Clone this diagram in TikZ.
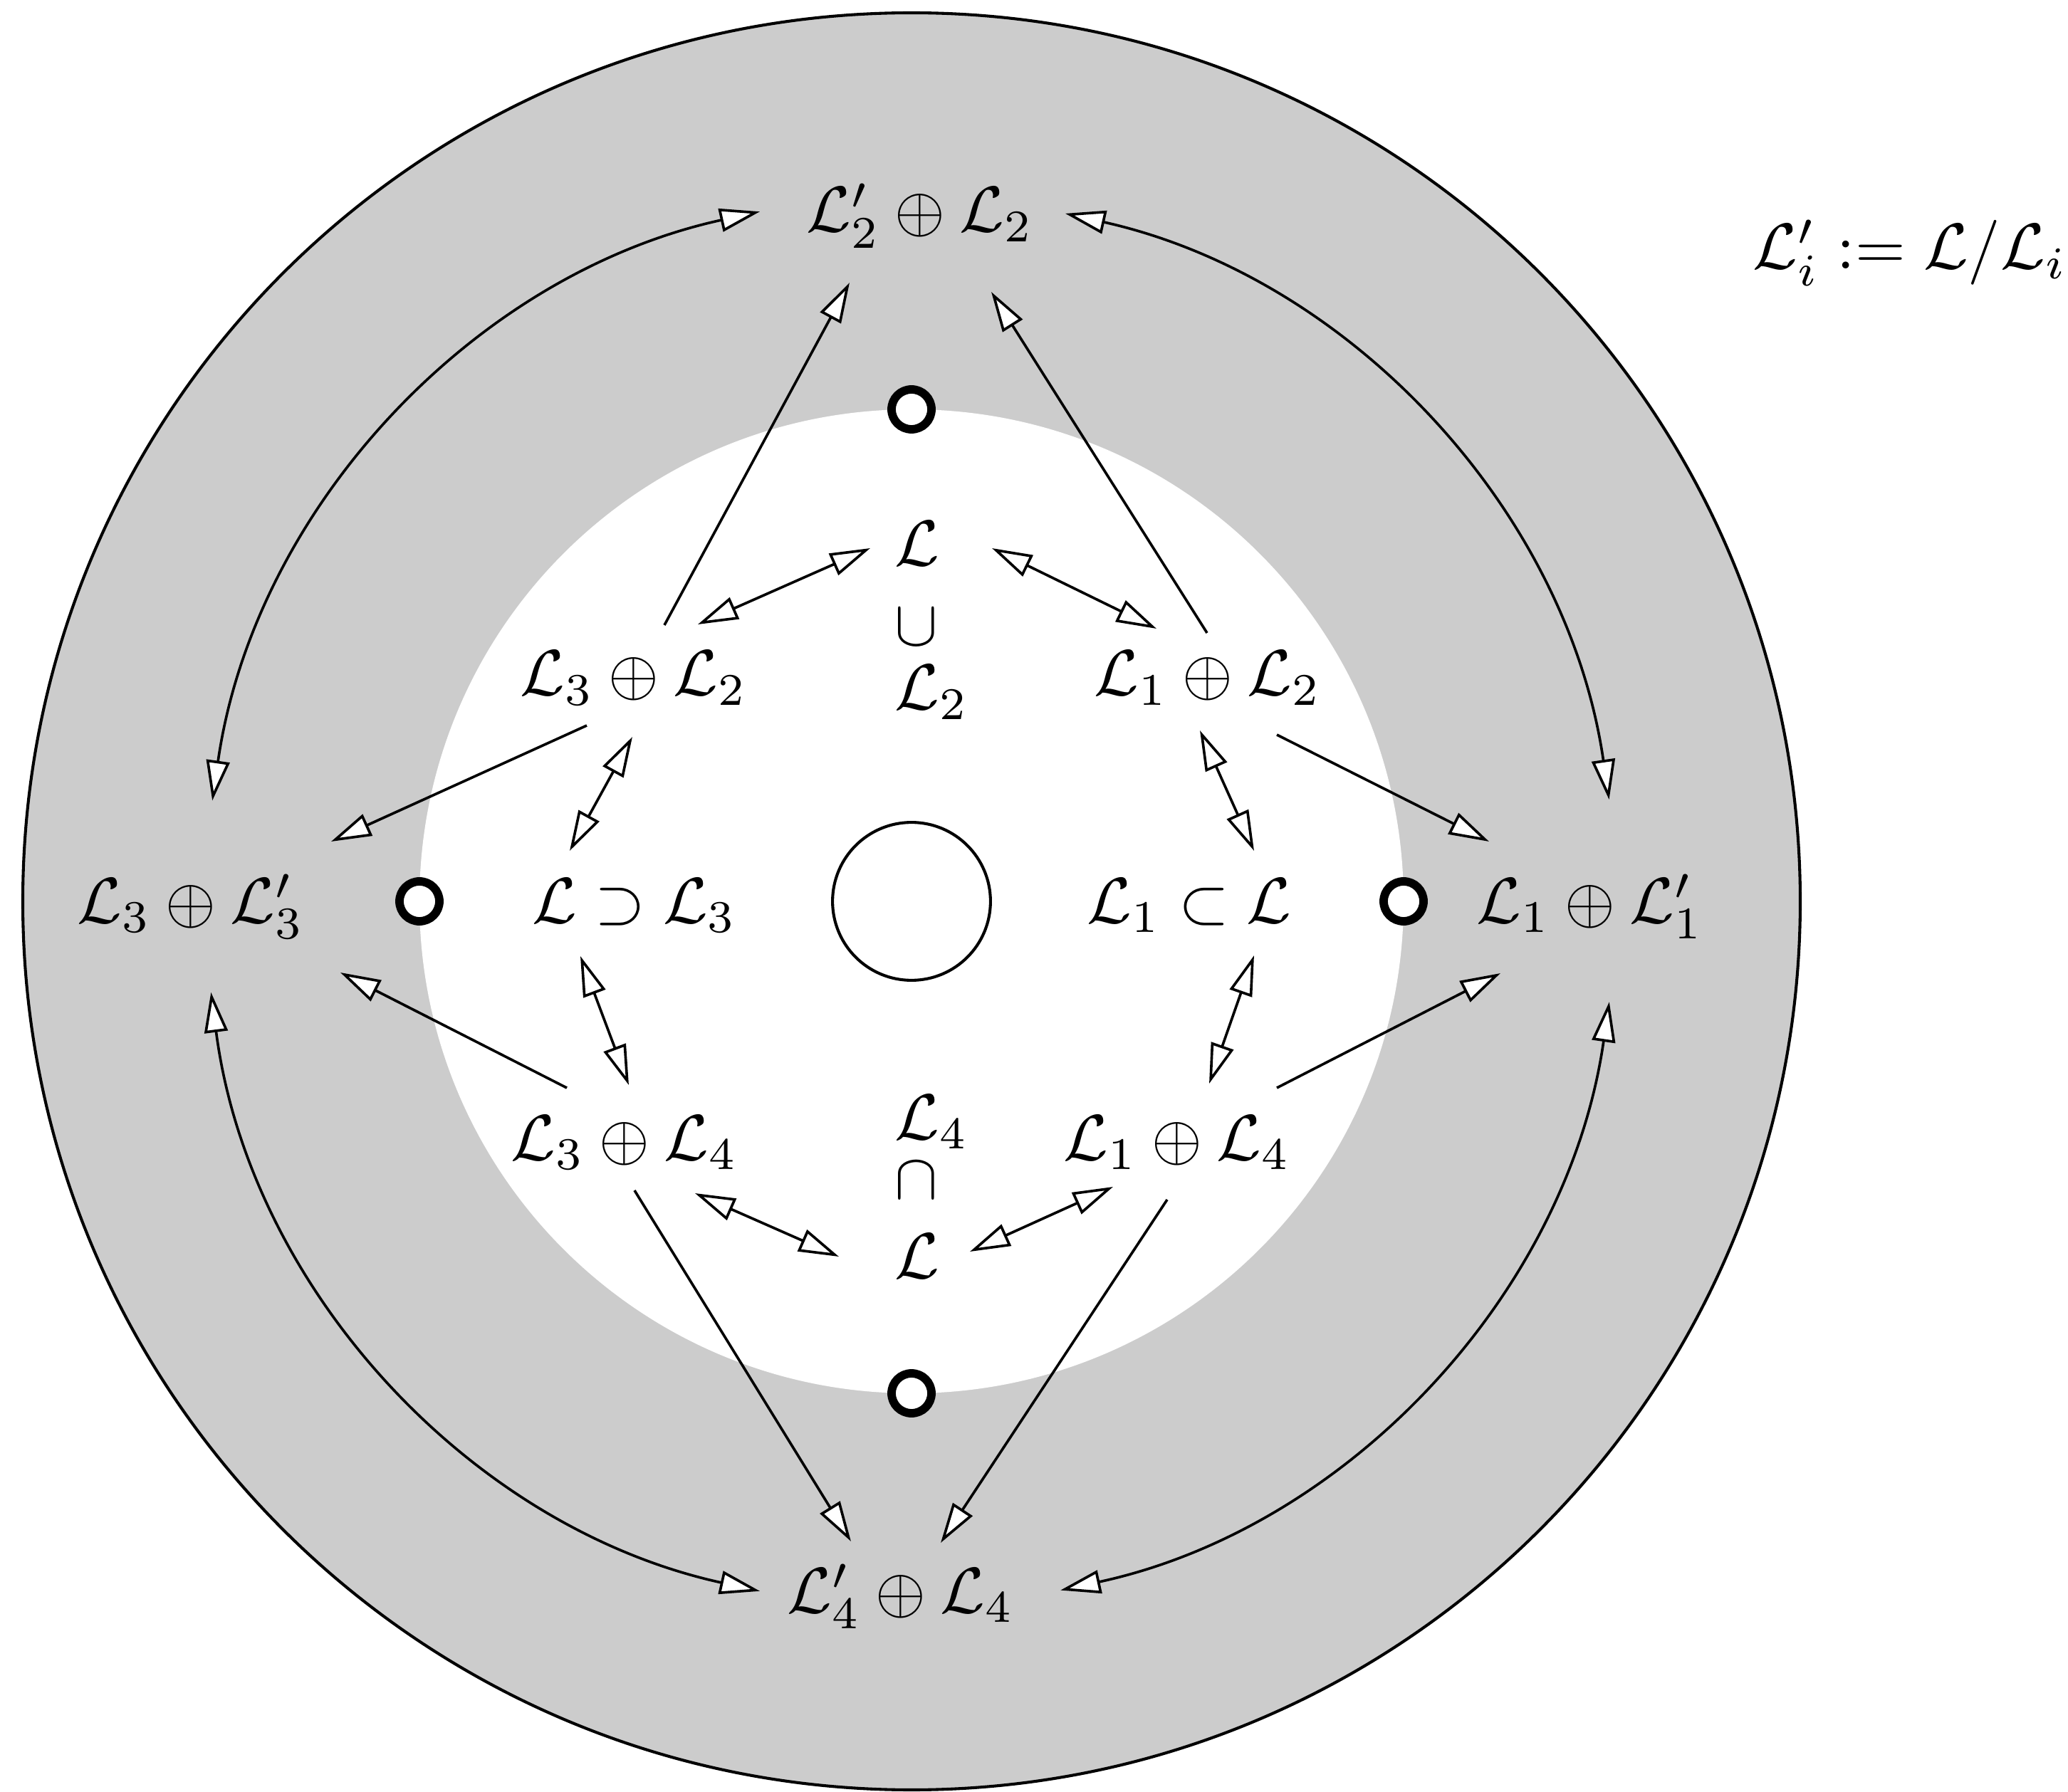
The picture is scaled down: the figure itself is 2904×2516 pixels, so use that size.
\documentclass[tikz,border=0pt]{standalone}
\usetikzlibrary{arrows.meta}
\begin{document}
\begin{tikzpicture}[x=0.11pt,y=0.11pt,
  hd/.tip={Triangle[length=6.2pt,width=3.6pt,fill=white]},
  arr/.style={-hd, line width=0.4pt},
  dbl/.style={hd-hd, line width=0.4pt},
  lbl/.style={anchor=base, inner sep=0pt},
  stk/.style={anchor=base west, inner sep=0pt},
  ring/.style={draw=black, line width=1.3pt, fill=white}]
\useasboundingbox (0,0) rectangle (2904,2516);
% discs
\filldraw[fill=black!20, draw=black, line width=0.45pt] (1280,1250) circle[radius=1248];
\fill[white] (1280,1250) circle[radius=691];
\node[draw, circle, fill=white, minimum size=24.4pt, inner sep=0pt, line width=0.45pt] (C) at (1280,1250) {};
% small rings
\draw[ring] (1280,1941) circle[radius=28];
\draw[ring] (1280,559) circle[radius=28];
\draw[ring] (589,1250) circle[radius=28];
\draw[ring] (1971,1250) circle[radius=28];
% outer labels
\node[lbl] (T)  at (1292,2190) {$\mathcal{L}'_2\oplus\mathcal{L}_2$};
\node[lbl] (B)  at (1265,251)  {$\mathcal{L}'_4\oplus\mathcal{L}_4$};
\node[lbl] (Lf) at (268,1220)  {$\mathcal{L}_3\oplus\mathcal{L}'_3$};
\node[lbl] (Rt) at (2233,1220) {$\mathcal{L}_1\oplus\mathcal{L}'_1$};
% inner labels
\node[lbl] (A32) at (890,1539)  {$\mathcal{L}_3\oplus\mathcal{L}_2$};
\node[lbl] (A12) at (1696,1539) {$\mathcal{L}_1\oplus\mathcal{L}_2$};
\node[lbl] (A34) at (877,887)   {$\mathcal{L}_3\oplus\mathcal{L}_4$};
\node[lbl] (A14) at (1653,887)  {$\mathcal{L}_1\oplus\mathcal{L}_4$};
\node[lbl] (S3)  at (891,1220)  {$\mathcal{L}\supset\mathcal{L}_3$};
\node[lbl] (S1)  at (1670,1220) {$\mathcal{L}_1\subset\mathcal{L}$};
% vertical stacks
\node[stk] (Lt)   at (1255,1721) {$\mathcal{L}$};
\node[stk] (cupT) at (1255,1609) {$\cup$};
\node[stk] (L2t)  at (1255,1519) {$\mathcal{L}_2$};
\node[stk] (L4b)  at (1255,916)  {$\mathcal{L}_4$};
\node[stk] (capB) at (1255,833)  {$\cap$};
\node[stk] (Lb)   at (1255,721)  {$\mathcal{L}$};
% legend
\node[lbl] (leg) at (2682,2138) {$\mathcal{L}'_i:=\mathcal{L}/\mathcal{L}_i$};
% curved double arrows (arcs about the centre)
\draw[dbl] ([shift={(171.8:992)}]C.center) arc[start angle=171.8, end angle=102.4, radius=992];
\draw[dbl] ([shift={(77.4:990)}]C.center) arc[start angle=77.4, end angle=8.3, radius=990];
\draw[dbl] ([shift={(187.4:992)}]C.center) arc[start angle=187.4, end angle=257.6, radius=992];
\draw[dbl] ([shift={(282.2:990)}]C.center) arc[start angle=282.2, end angle=351.8, radius=990];
% straight arrows to outer labels
\draw[arr] ([shift={(43,99)}]A32.base) -- ([shift={(-99,-71)}]T.base);
\draw[arr] ([shift={(-1,88)}]A12.base) -- ([shift={(100,-84)}]T.base);
\draw[arr] ([shift={(-66,-42)}]A32.base) -- ([shift={(197,114)}]Lf.base);
\draw[arr] ([shift={(-81,101)}]A34.base) -- ([shift={(210,-70)}]Lf.base);
\draw[arr] ([shift={(97,-55)}]A12.base) -- ([shift={(-142,114)}]Rt.base);
\draw[arr] ([shift={(140,101)}]A14.base) -- ([shift={(-126,-71)}]Rt.base);
\draw[arr] ([shift={(14,-43)}]A34.base) -- ([shift={(-70,100)}]B.base);
\draw[arr] ([shift={(-14,-56)}]A14.base) -- ([shift={(56,98)}]B.base);
% inner double arrows
\draw[dbl] ([shift={(-33,25)}]Lt.base west) -- ([shift={(90,100)}]A32.base);
\draw[dbl] ([shift={(138,25)}]Lt.base west) -- ([shift={(-72,94)}]A12.base);
\draw[dbl] ([shift={(-2,-58)}]A32.base) -- ([shift={(-91,101)}]S3.base);
\draw[dbl] ([shift={(-11,-49)}]A12.base) -- ([shift={(91,101)}]S1.base);
\draw[dbl] ([shift={(-76,-47)}]S3.base) -- ([shift={(6,105)}]A34.base);
\draw[dbl] ([shift={(91,-46)}]S1.base) -- ([shift={(45,107)}]A14.base);
\draw[dbl] ([shift={(99,-47)}]A34.base) -- ([shift={(-77,30)}]Lb.base west);
\draw[dbl] ([shift={(-90,-38)}]A14.base) -- ([shift={(107,37)}]Lb.base west);
\end{tikzpicture}
\end{document}
